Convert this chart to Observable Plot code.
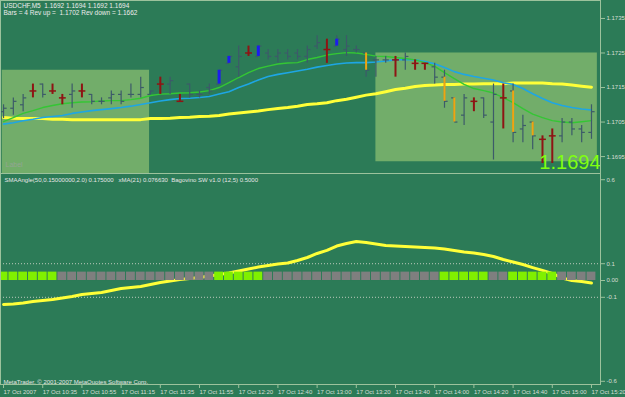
<!DOCTYPE html>
<html><head><meta charset="utf-8">
<script src="https://cdn.jsdelivr.net/npm/d3@7"></script>
<script src="https://cdn.jsdelivr.net/npm/@observablehq/plot@0.6"></script>
<style>
html,body{margin:0;padding:0;background:#2c7b57;}
#chart{position:relative;width:625px;height:397px;background:#2c7b57;overflow:hidden;}
#toppane,#bottompane{position:absolute;left:0;}
#toppane{top:0}
#bottompane{top:173px}
svg{display:block}
</style></head><body>
<div id="chart"><div id="toppane"></div><div id="bottompane"></div></div>
<script>
// ---- data ----
const barOpen = [1.1708,1.1709,1.1710,1.1714,1.1716,1.1714,1.1712,1.1713,1.1714,1.1713,
 1.1711,1.1712,1.1713,1.1713,1.1713,1.1713,1.1716,1.1716,1.1713,1.1716,
 1.1713,1.1715,1.1716,1.1722,1.1721,1.1725,1.1724,1.1725,1.1724,1.1725,
 1.1725,1.1724,1.1727,1.1726,1.1727,1.1726,1.1726,1.1725,1.1723,1.1723,
 1.1723,1.1723,1.1722,1.1722,1.1721,1.1718,1.1712,1.1707,1.1711,1.1712,
 1.1705,1.1712,1.1714,1.1703,1.1705,1.1700,1.1701,1.1701,1.1705,1.1703,
 1.1702];
const barHigh = [1.1710,1.1712,1.1713,1.1716,1.1716,1.1716,1.1713,1.1716,1.1716,1.1713,
 1.1712,1.1714,1.1714,1.1716,1.1718,1.1714,1.1718,1.1718,1.1713,1.1716,
 1.1714,1.1716,1.1720,1.1724,1.1727,1.1727,1.1727,1.1726,1.1726,1.1726,
 1.1726,1.1727,1.1730,1.1729,1.1730,1.1730,1.1727,1.1725,1.1724,1.1724,
 1.1724,1.1725,1.1723,1.1722,1.1722,1.1720,1.1712,1.1713,1.1712,1.1712,
 1.1716,1.1716,1.1716,1.1707,1.1705,1.1701,1.1703,1.1706,1.1706,1.1704,
 1.1710];
const barLow = [1.1706,1.1707,1.1708,1.1712,1.1712,1.1713,1.1710,1.1709,1.1712,1.1710,
 1.1710,1.1710,1.1710,1.1712,1.1712,1.1713,1.1713,1.1713,1.1711,1.1712,
 1.1712,1.1713,1.1716,1.1722,1.1718,1.1724,1.1724,1.1723,1.1722,1.1723,
 1.1723,1.1722,1.1726,1.1722,1.1727,1.1724,1.1725,1.1718,1.1718,1.1722,
 1.1718,1.1720,1.1720,1.1720,1.1716,1.1709,1.1705,1.1704,1.1708,1.1706,
 1.1694,1.1703,1.1699,1.1699,1.1697,1.1693,1.1693,1.1699,1.1701,1.1699,
 1.1700];
const barClose = [1.1709,1.1711,1.1712,1.1714,1.1713,1.1714,1.1712,1.1714,1.1714,1.1711,
 1.1711,1.1713,1.1711,1.1713,1.1715,1.1714,1.1716,1.1717,1.1711,1.1713,
 1.1713,1.1714,1.1720,1.1724,1.1724,1.1725,1.1727,1.1724,1.1725,1.1724,
 1.1724,1.1726,1.1728,1.1726,1.1729,1.1727,1.1726,1.1720,1.1723,1.1723,
 1.1723,1.1724,1.1722,1.1722,1.1718,1.1711,1.1705,1.1712,1.1711,1.1707,
 1.1713,1.1712,1.1702,1.1704,1.1701,1.1700,1.1701,1.1705,1.1703,1.1702,
 1.1708];
// g = plain bar, r = red marker bar, b = blue body, o = orange body
const barTag = ["g","g","g","r","g","r","r","g","r","g",
 "g","g","g","g","g","g","r","g","r","g",
 "g","g","b","b","g","r","b","g","g","g",
 "g","g","g","r","b","g","g","o","g","g",
 "r","g","r","r","g","o","o","g","r","g",
 "g","r","o","g","o","r","r","g","g","g",
 "g"];
const maGreen = [1.17051,1.17063,1.17075,1.17083,1.17092,1.17098,1.17103,1.17106,1.17108,1.17109,
 1.17111,1.17112,1.17112,1.17115,1.17119,1.17127,1.17131,1.17132,1.17134,1.17135,
 1.17137,1.17141,1.17150,1.17164,1.17179,1.17193,1.17205,1.17212,1.17218,1.17221,
 1.17222,1.17231,1.17237,1.17244,1.17248,1.17251,1.17250,1.17246,1.17241,1.17240,
 1.17237,1.17234,1.17230,1.17222,1.17211,1.17193,1.17176,1.17159,1.17147,1.17141,
 1.17134,1.17121,1.17106,1.17089,1.17073,1.17063,1.17054,1.17050,1.17048,1.17051,
 1.17054];
const maCyan = [1.17044,1.17048,1.17054,1.17058,1.17063,1.17066,1.17069,1.17075,1.17079,1.17083,
 1.17086,1.17089,1.17092,1.17096,1.17101,1.17106,1.17111,1.17115,1.17118,1.17119,
 1.17121,1.17124,1.17131,1.17138,1.17150,1.17160,1.17172,1.17182,1.17188,1.17193,
 1.17198,1.17203,1.17209,1.17214,1.17218,1.17221,1.17222,1.17222,1.17224,1.17227,
 1.17230,1.17231,1.17230,1.17225,1.17219,1.17208,1.17196,1.17188,1.17182,1.17177,
 1.17172,1.17164,1.17159,1.17147,1.17132,1.17118,1.17106,1.17098,1.17092,1.17088,
 1.17085];
const maYellow = [1.17063,1.17061,1.17060,1.17060,1.17060,1.17058,1.17058,1.17057,1.17057,1.17057,
 1.17057,1.17057,1.17057,1.17057,1.17057,1.17060,1.17060,1.17061,1.17063,1.17064,
 1.17066,1.17067,1.17069,1.17073,1.17076,1.17079,1.17082,1.17086,1.17089,1.17092,
 1.17096,1.17101,1.17103,1.17106,1.17112,1.17116,1.17122,1.17128,1.17132,1.17138,
 1.17144,1.17148,1.17153,1.17156,1.17157,1.17159,1.17159,1.17160,1.17160,1.17161,
 1.17161,1.17161,1.17163,1.17163,1.17163,1.17163,1.17161,1.17160,1.17157,1.17154,
 1.17151];
const oscValue = [-0.143,-0.140,-0.134,-0.125,-0.119,-0.113,-0.104,-0.095,-0.083,-0.077,
 -0.071,-0.060,-0.048,-0.042,-0.036,-0.024,-0.012,-0.003,0.006,0.012,
 0.018,0.027,0.036,0.045,0.057,0.068,0.080,0.089,0.098,0.104,
 0.119,0.137,0.161,0.179,0.205,0.220,0.232,0.226,0.217,0.208,
 0.205,0.202,0.199,0.196,0.193,0.188,0.179,0.170,0.164,0.155,
 0.143,0.125,0.110,0.095,0.077,0.060,0.042,0.015,0.000,-0.006,
 -0.015];
const signalOn = [1,1,1,1,1,1,0,0,0,0, 0,0,0,0,0,0,0,0,0,0,
 0,0,1,1,1,1,1,0,0,0, 0,0,0,0,0,0,0,0,0,0,
 0,0,0,0,0,1,1,1,1,1, 0,0,1,1,1,1,1,0,0,0,
 0];
const signalLevel = 0.05;
const boxStart = [-0.13, 38];
const boxEnd = [14.9, 60.6];
const boxLow = [1.1690, 1.16935];
const boxHigh = [1.1720, 1.1725];
const priceTicks = [1.1695, 1.1705, 1.1715, 1.1725, 1.1735];
const oscTicks = [0.6, 0.1, 0, -0.1, -0.6];
const oscTickLabels = ["0.6", "0.1", "0.00", "-0.1", "-0.6"];
const timeTickBars = [0,4,8,12,16,20,24,28,32,36,40,44,48,52,56,60];
const timeTickLabels = ["17 Oct 2007","17 Oct 10:35","17 Oct 10:55","17 Oct 11:15","17 Oct 11:35",
 "17 Oct 11:55","17 Oct 12:20","17 Oct 12:40","17 Oct 13:00","17 Oct 13:20","17 Oct 13:40",
 "17 Oct 14:00","17 Oct 14:20","17 Oct 14:40","17 Oct 15:00","17 Oct 15:20"];
const titleLine1 = "USDCHF,M5  1.1692 1.1694 1.1692 1.1694";
const titleLine2 = "Bars = 4 Rev up =  1.1702 Rev down = 1.1662";
const boxLabel = "Label";
const priceLabel = "1.1694";
const oscHeader = "SMAAngle(50,0.15000000,2.0) 0.175000   xMA(21) 0.076630  Bagovino SW v1.0 (12,5) 0.5000";
const copyright = "MetaTrader, \u00a9 2001-2007 MetaQuotes Software Corp.";

// ---- build ----
const FONT = '"Liberation Sans Narrow","Arial Narrow","Liberation Sans",Arial,sans-serif';
const bars = barOpen.map((o, k) => ({i: k, open: o, high: barHigh[k], low: barLow[k], close: barClose[k], tag: barTag[k]}));
const maRows = maGreen.map((g, k) => ({i: k, green: g, cyan: maCyan[k], yellow: maYellow[k]}));
const oscRows = oscValue.map((v, k) => ({i: k, v, on: signalOn[k]}));
const boxes = boxStart.map((s, k) => ({x1: s, x2: boxEnd[k], y1: boxLow[k], y2: boxHigh[k]}));
const plain = bars.filter(d => d.tag !== "r");
const reds = bars.filter(d => d.tag === "r");
const blues = bars.filter(d => d.tag === "b");
const oranges = bars.filter(d => d.tag === "o");

const GREY = "#3d5a6a", RED = "#8e1414", FRAME = "#9cc29c";
const xDomain = [-0.31, 60.92];

const topChart = Plot.plot({
  width: 625, height: 173,
  marginLeft: 0, marginRight: 25, marginTop: 0, marginBottom: 0,
  style: {background: "transparent", color: "#d6ded6", fontFamily: FONT, fontSize: "6px"},
  x: {domain: xDomain, axis: null},
  y: {domain: [1.16901, 1.17402], axis: null},
  marks: [
    Plot.rect(boxes, {x1: "x1", x2: "x2", y1: "y1", y2: "y2", fill: "#72ad6a", clip: true}),
    Plot.line(maRows, {x: "i", y: "yellow", stroke: "#ffff38", strokeWidth: 3}),
    Plot.line(maRows, {x: "i", y: "cyan", stroke: "#1ea6e4", strokeWidth: 1.6}),
    Plot.line(maRows, {x: "i", y: "green", stroke: "#34c634", strokeWidth: 1.4}),
    Plot.ruleX(plain, {x: "i", y1: "low", y2: "high", stroke: GREY, strokeWidth: 1.2}),
    Plot.link(plain, {x1: d => d.i - 0.32, x2: "i", y1: "open", y2: "open", stroke: GREY, strokeWidth: 1.2}),
    Plot.link(plain, {x1: "i", x2: d => d.i + 0.32, y1: "close", y2: "close", stroke: GREY, strokeWidth: 1.2}),
    Plot.ruleX(reds, {x: "i", y1: "low", y2: "high", stroke: RED, strokeWidth: 2}),
    Plot.link(reds, {x1: d => d.i - 0.35, x2: d => d.i + 0.35, y1: "close", y2: "close", stroke: RED, strokeWidth: 1.5}),
    Plot.ruleX(blues, {x: "i", y1: "open", y2: "close", stroke: "#1c1cee", strokeWidth: 3}),
    Plot.ruleX(oranges, {x: "i", y1: "open", y2: "close", stroke: "#eea512", strokeWidth: 2}),
    Plot.axisY({anchor: "right", ticks: priceTicks, tickFormat: d3.format(".4f"), tickSize: 4, tickPadding: 2, label: null, stroke: FRAME}),
    Plot.text([titleLine1], {text: d => d, frameAnchor: "top-left", dx: 3, dy: 3, fill: "#ececec", fontSize: 6.5}),
    Plot.text([titleLine2], {text: d => d, frameAnchor: "top-left", dx: 3, dy: 10, fill: "#ececec", fontSize: 6.5}),
    Plot.text([boxLabel], {text: d => d, frameAnchor: "bottom-left", dx: 5, dy: -7, fill: "#93a593", fontSize: 7}),
    Plot.text([priceLabel], {text: d => d, frameAnchor: "bottom-right", dx: 0, dy: -5, fill: "#80ff10", fontSize: 20, fontFamily: '"Liberation Sans",Arial,sans-serif'}),
    Plot.frame({stroke: FRAME})
  ]
});

const bottomChart = Plot.plot({
  width: 625, height: 224,
  marginLeft: 0, marginRight: 25, marginTop: 0, marginBottom: 13,
  style: {background: "transparent", color: "#d6ded6", fontFamily: FONT, fontSize: "6px"},
  x: {domain: xDomain},
  y: {domain: [-0.619, 0.637], axis: null},
  marks: [
    Plot.ruleY([0.1, -0.1], {stroke: "#bccabc", strokeDasharray: "1,2"}),
    Plot.line(oscRows, {x: "i", y: "v", stroke: "#ffff38", strokeWidth: 3}),
    Plot.rect(oscRows, {x1: d => d.i - 0.45, x2: d => d.i + 0.45, y1: d => 0, y2: d => signalLevel, fill: d => d.on ? "#80f000" : "#7f7f7f"}),
    Plot.axisY({anchor: "right", ticks: oscTicks, tickFormat: d => oscTickLabels[oscTicks.indexOf(d)], tickSize: 4, tickPadding: 2, label: null, stroke: FRAME}),
    Plot.axisX({ticks: timeTickBars, tickFormat: d => timeTickLabels[timeTickBars.indexOf(d)], textAnchor: "start", tickSize: 4, tickPadding: 1, label: null, stroke: FRAME}),
    Plot.text([oscHeader], {text: d => d, frameAnchor: "top-left", dx: 4, dy: 4, fill: "#e6e6e6"}),
    Plot.text([copyright], {text: d => d, frameAnchor: "bottom-left", dx: 3, dy: -1, fill: "#e6e6e6"}),
    Plot.frame({stroke: FRAME})
  ]
});

document.getElementById("toppane").appendChild(topChart);
document.getElementById("bottompane").appendChild(bottomChart);
</script>
</body></html>
